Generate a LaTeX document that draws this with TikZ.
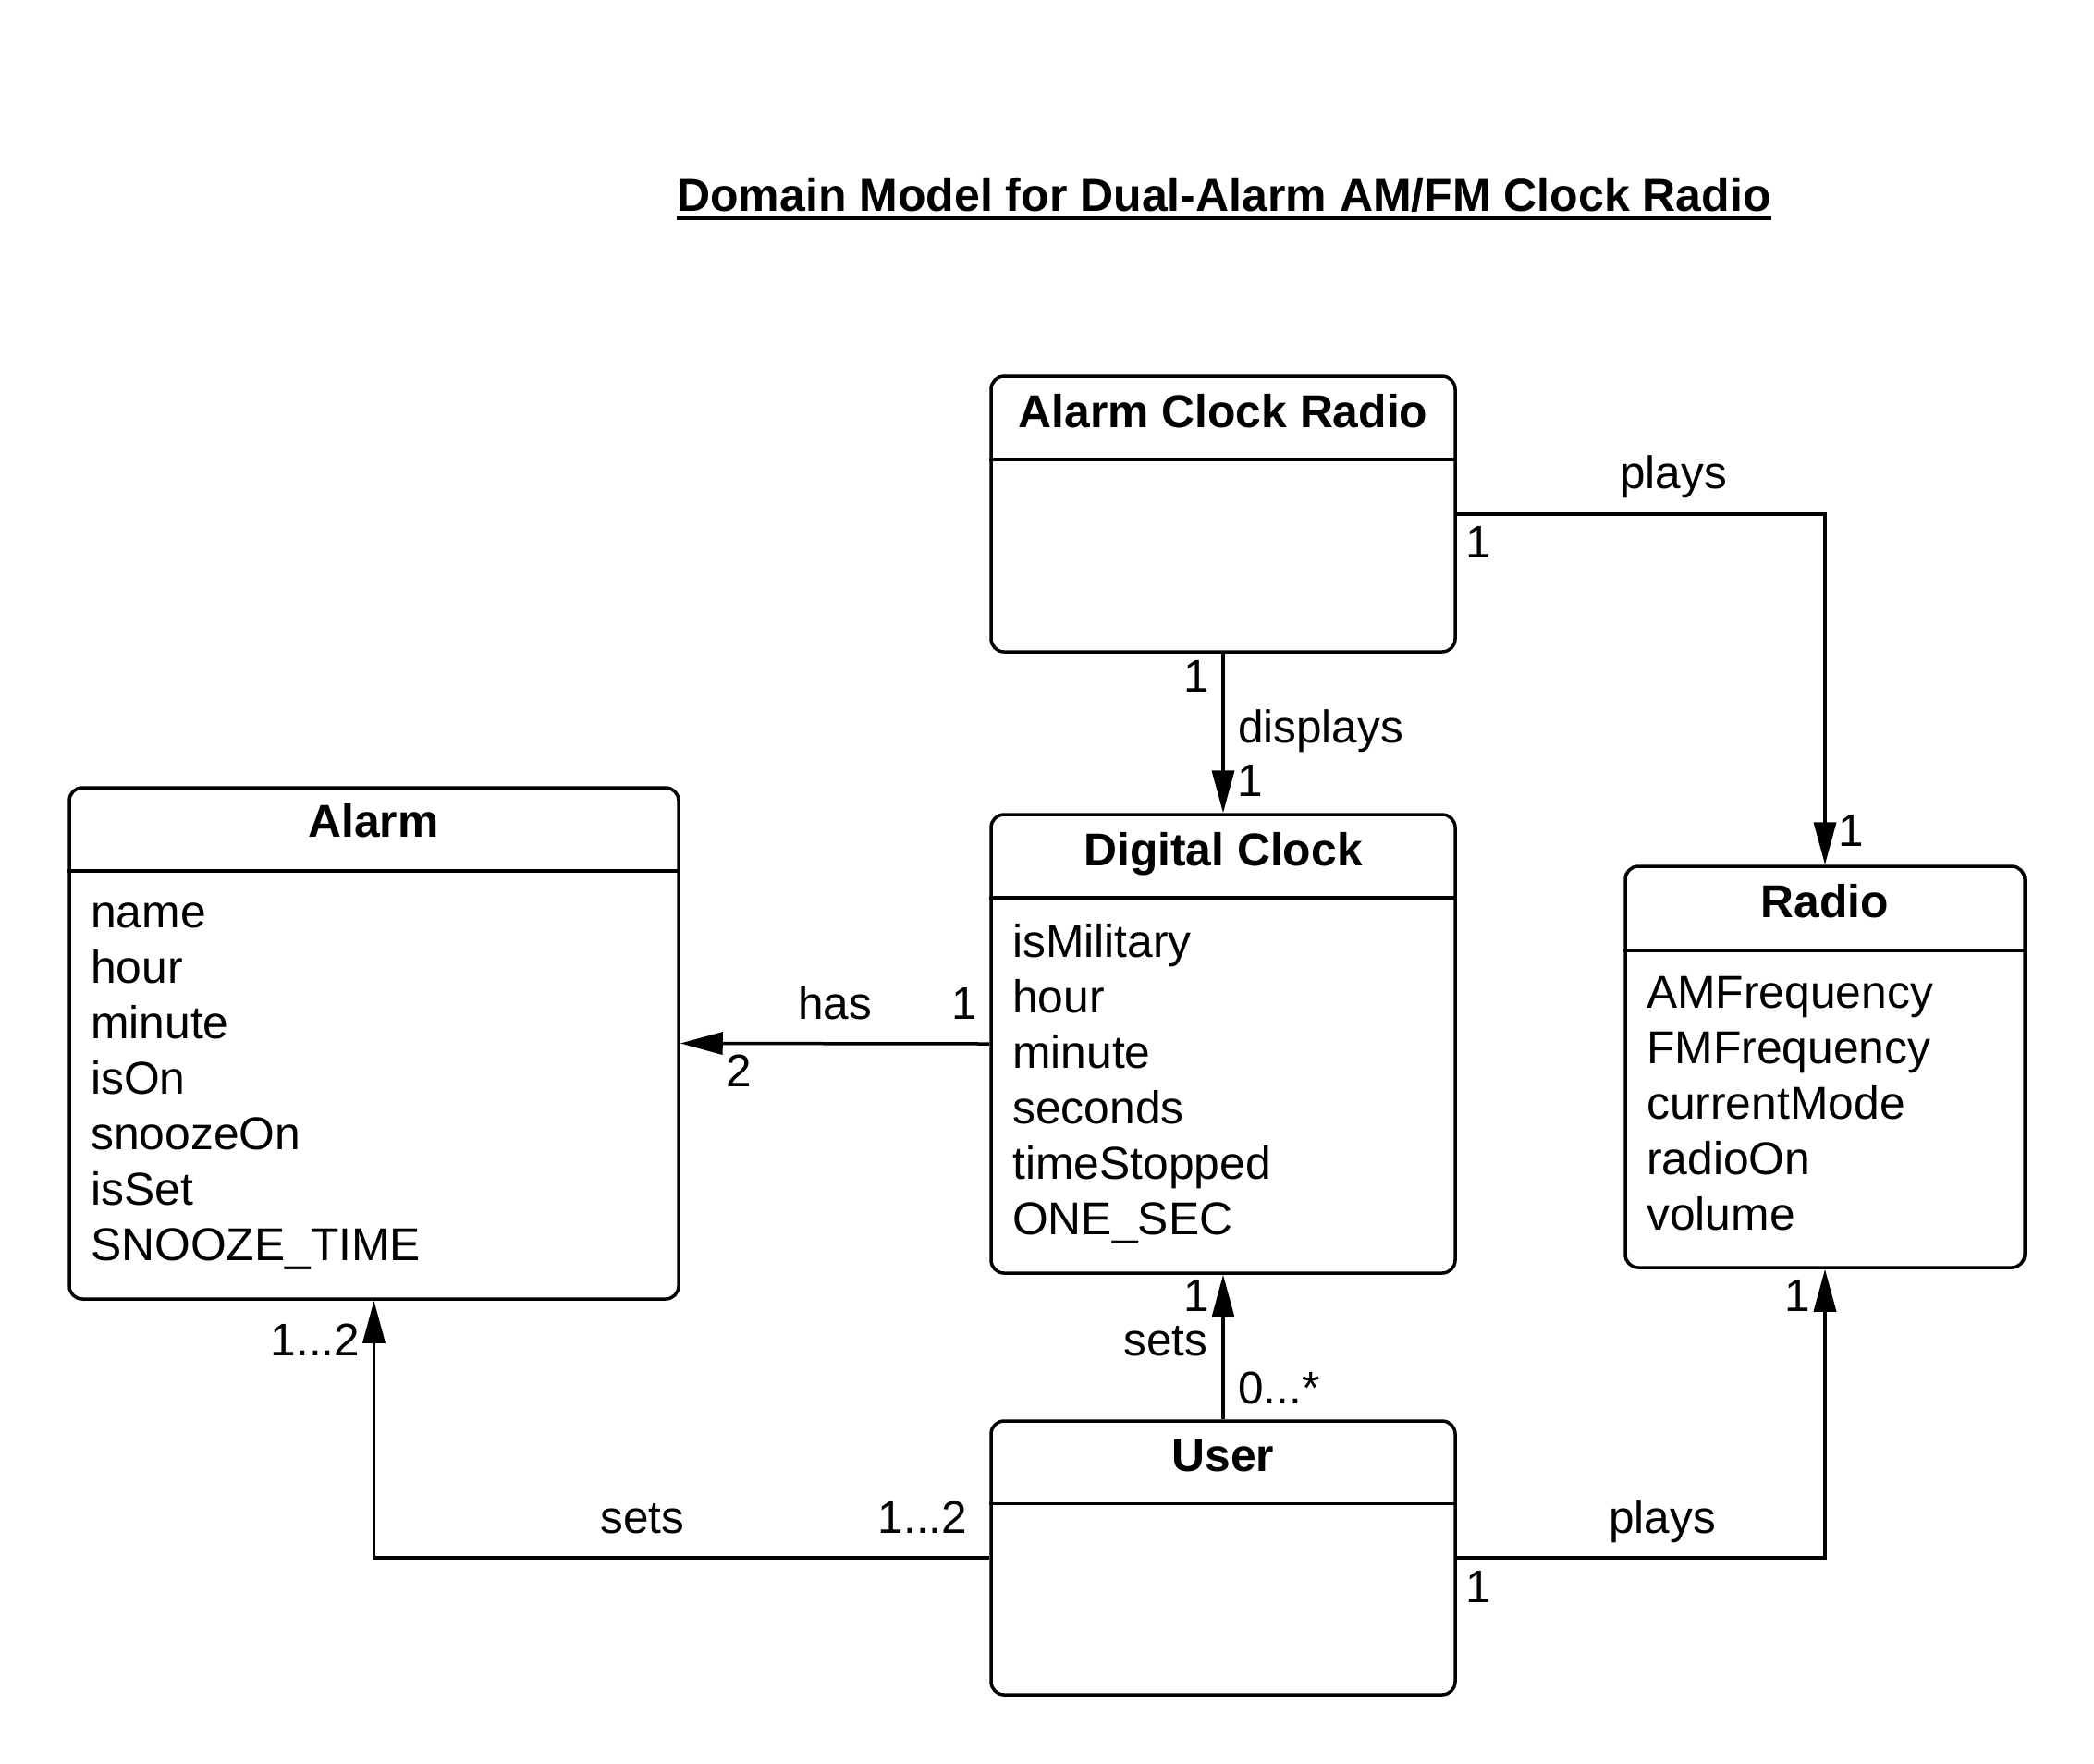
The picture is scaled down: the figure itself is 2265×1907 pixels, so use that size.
\documentclass[tikz,border=0pt]{standalone}
\usepackage{fontspec}
\setmainfont{Liberation Sans}
\usetikzlibrary{arrows.meta}
\tikzset{
  classbox/.style={draw, line width=3.5pt, rounded corners=14pt, inner sep=0pt},
  sepline/.style={line width=3.5pt},
  hdr/.style={anchor=base, inner sep=0pt, font=\fontsize{49.8}{59}\selectfont\bfseries},
  attr/.style={anchor=base west, inner sep=0pt, align=left, font=\fontsize{49.8}{60}\selectfont},
  lbl/.style={anchor=base, inner sep=0pt, font=\fontsize{49.5}{59}\selectfont},
  assoc/.style={line width=3.5pt, -{Triangle[length=46pt, width=24pt]}},
}
\begin{document}
\begin{tikzpicture}[x=1pt, y=-1pt]
\useasboundingbox (0,0) rectangle (2265,1907);
% title
\node[lbl, font=\fontsize{50}{59}\selectfont\bfseries] (title) at (1324,228) {Domain Model for Dual-Alarm AM/FM Clock Radio};
\draw[line width=3.5pt] (title.base west) ++(0,8) coordinate (ul1) -- (title.base east |- ul1) coordinate (ul2);

% boxes
\node[classbox, minimum width=502pt, minimum height=298pt] (acr) at (1323,556) {};
\node[classbox, minimum width=502pt, minimum height=496pt] (dc) at (1323,1129) {};
\node[classbox, minimum width=659pt, minimum height=553pt] (alarm) at (404.5,1128.5) {};
\node[classbox, minimum width=432pt, minimum height=434pt] (radio) at (1974,1154) {};
\node[classbox, minimum width=502pt, minimum height=296pt] (user) at (1323,1685) {};

% separators
\draw[sepline] (acr.west |- 0,497) -- (acr.east |- 0,497);
\draw[sepline] (dc.west |- 0,971) -- (dc.east |- 0,971);
\draw[sepline] (alarm.west |- 0,942) -- (alarm.east |- 0,942);
\draw[sepline] (radio.west |- 0,1028.5) -- (radio.east |- 0,1028.5);
\draw[sepline] (user.west |- 0,1626.5) -- (user.east |- 0,1626.5);

% headers
\node[hdr] (acrh) at (1323,462) {Alarm Clock Radio};
\node[hdr] (dch) at (1323,936) {Digital Clock};
\node[hdr] (alarmh) at (404,905) {Alarm};
\node[hdr] (radioh) at (1974,992) {Radio};
\node[hdr] (userh) at (1323,1591) {User};

% attributes
\node[attr, anchor=north west] (alarma) at (98,976) {name\\hour\\minute\\isOn\\snoozeOn\\isSet\\SNOOZE\_TIME};
\node[attr, anchor=north west] (dca) at (1095,999) {isMilitary\\hour\\minute\\seconds\\timeStopped\\ONE\_SEC};
\node[attr, anchor=north west] (radioa) at (1781,1056) {AMFrequency\\FMFrequency\\currentMode\\radioOn\\volume};

% connectors
\draw[assoc] (acr.east) -| (radio.north);
\draw[assoc] (acr.south) -- (dc.north);
\draw[assoc] (dc.west) -- (alarm.east);
\draw[assoc] (user.north) -- (dc.south);
\draw[assoc] (user.west) -| (alarm.south);
\draw[assoc] (user.east) -| (radio.south);

% labels
\node[lbl] (l1) at (1810,528) {plays};
\node[lbl] (l2) at (1599,603) {1};
\node[lbl] (l3) at (2002,915) {1};
\node[lbl] (l4) at (1294,748) {1};
\node[lbl, anchor=base west] (l5) at (1339,803) {displays};
\node[lbl] (l6) at (1352,861) {1};
\node[lbl] (l7) at (903,1102) {has};
\node[lbl] (l8) at (1043,1102) {1};
\node[lbl] (l9) at (799,1175) {2};
\node[lbl] (l10) at (1294,1418) {1};
\node[lbl] (l11) at (1261,1466) {sets};
\node[lbl, anchor=base west] (l12) at (1339,1518) {0...*};
\node[lbl] (l13) at (695,1658) {sets};
\node[lbl] (l14) at (998,1658) {1...2};
\node[lbl] (l15) at (341,1466) {1...2};
\node[lbl] (l16) at (1798,1658) {plays};
\node[lbl] (l17) at (1599,1733) {1};
\node[lbl] (l18) at (1944,1418) {1};
\end{tikzpicture}
\end{document}
